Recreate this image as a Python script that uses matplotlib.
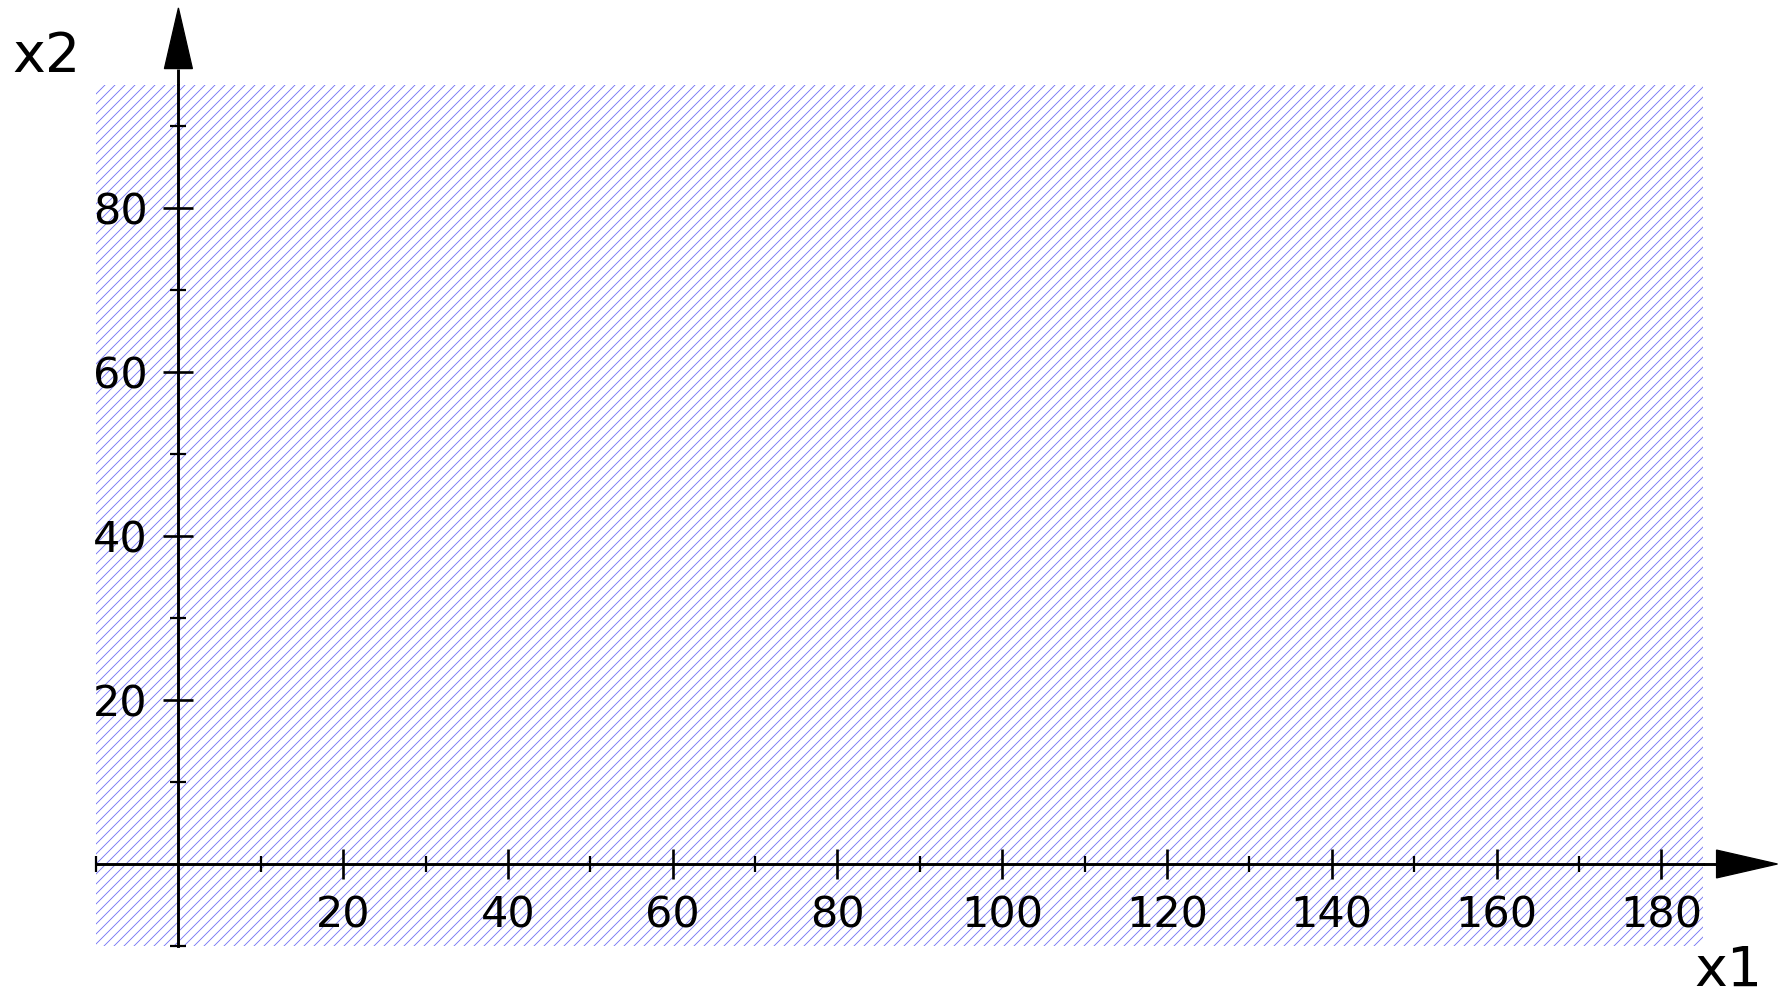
import numpy as np
import matplotlib.pyplot as plt
from matplotlib.patches import Polygon

# region shown (shaded) and axis ranges
region_x = [-10, 185]
region_y = [-10, 95]
x_major = [20, 40, 60, 80, 100, 120, 140, 160, 180]
x_minor = [-10, 10, 30, 50, 70, 90, 110, 130, 150, 170]
y_major = [20, 40, 60, 80]
y_minor = [-10, 10, 30, 50, 70, 90]

DPI = 90
S = 100 / DPI  # keep pixel sizes tuned at 100 dpi

plt.rcParams['font.family'] = 'DejaVu Sans'
plt.rcParams['hatch.linewidth'] = 0.7

fig = plt.figure(figsize=(1785 / DPI, 1000 / DPI), dpi=DPI)
ax = fig.add_axes([0.0538, 0.054, 0.9, 0.861])
ax.set_xlim(region_x)
ax.set_ylim(region_y)

# shaded region
ax.fill_between(region_x, region_y[0], region_y[1], facecolor='none',
                edgecolor=(0.45, 0.45, 0.96), hatch='///', linewidth=0)

# axes through the origin
for s in ['top', 'right']:
    ax.spines[s].set_visible(False)
ax.spines['left'].set_position('zero')
ax.spines['bottom'].set_position('zero')
for s in ['left', 'bottom']:
    ax.spines[s].set_linewidth(2.1 * S)

fs = 31 * S
ax.set_xticks(x_major)
ax.set_xticks(x_minor, minor=True)
ax.set_yticks(y_major)
ax.set_yticks(y_minor, minor=True)
ax.tick_params(which='major', direction='inout', length=22 * S, width=1.9 * S,
               labelsize=fs, pad=11 * S)
ax.tick_params(which='minor', direction='inout', length=11 * S, width=1.6 * S)

# extend axes with arrow heads
xe, xt = 186.7, 194.1
ye, yt = 97.0, 104.4
hw_x = 1.7   # half width in y units for x-arrow
hw_y = 1.7   # half width in x units for y-arrow
ax.plot([region_x[1], xe], [0, 0], color='black', lw=2.1 * S, clip_on=False,
        solid_capstyle='butt')
ax.plot([0, 0], [region_y[1], ye], color='black', lw=2.1 * S, clip_on=False,
        solid_capstyle='butt')
ax.add_patch(Polygon([[xe, -hw_x], [xt, 0], [xe, hw_x]], closed=True,
                     color='black', clip_on=False))
ax.add_patch(Polygon([[-hw_y, ye], [0, yt], [hw_y, ye]], closed=True,
                     color='black', clip_on=False))

fs_lab = 40 * S
fig.text(1728 / 1785, 0.002, 'x1', fontsize=fs_lab, ha='center', va='bottom')
fig.text(47 / 1785, 1 - 57 / 1000, 'x2', fontsize=fs_lab, ha='center', va='center')

fig.savefig('out.png', dpi=DPI)
